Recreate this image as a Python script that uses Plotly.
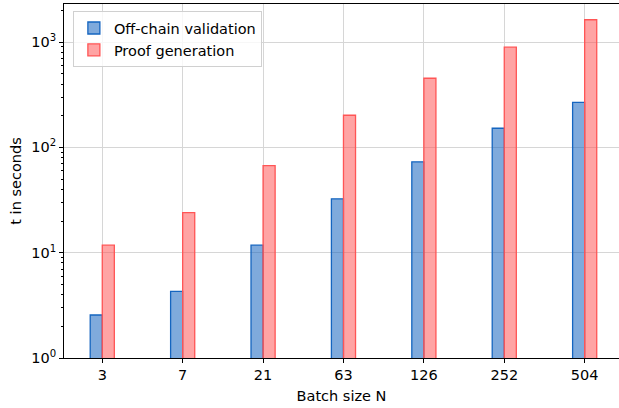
import plotly.graph_objects as go

batch_sizes = ["3", "7", "21", "63", "126", "252", "504"]
offchain_validation = [2.56, 4.3, 11.8, 32.5, 73, 152, 268]
proof_generation = [11.8, 24, 67, 202, 454, 896, 1630]

x_pos = list(range(len(batch_sizes)))
W = 0.15
FONT = "DejaVu Sans, Verdana, sans-serif"
FS = 14.5

fig = go.Figure()
fig.add_trace(go.Bar(
    x=x_pos, y=offchain_validation, name="Off-chain validation",
    width=W, offset=-W,
    marker=dict(color="rgba(21,101,192,0.55)", line=dict(color="#1565c0", width=1.3)),
))
fig.add_trace(go.Bar(
    x=x_pos, y=proof_generation, name="Proof generation",
    width=W, offset=0,
    marker=dict(color="rgba(255,80,80,0.52)", line=dict(color="#ff5555", width=1.3)),
))

minor_vals = [m * 10 ** e for e in range(0, 4) for m in range(2, 10)]

fig.update_layout(
    width=619, height=408,
    margin=dict(l=64, r=0, t=4, b=50, autoexpand=False),
    barmode="overlay",
    plot_bgcolor="white", paper_bgcolor="white",
    font=dict(family=FONT, size=FS, color="black"),
    showlegend=True,
    legend=dict(
        x=0.016, y=0.98, xanchor="left", yanchor="top",
        bgcolor="rgba(255,255,255,0.8)", bordercolor="#d0d0d0", borderwidth=1,
        font=dict(family=FONT, size=FS), itemwidth=30,
    ),
    xaxis=dict(
        range=[-0.476, 6.427], automargin=False,
        tickmode="array", tickvals=x_pos, ticktext=batch_sizes,
        tickfont=dict(family=FONT, size=FS),
        showgrid=True, gridcolor="#d6d6d6", gridwidth=1,
        showline=True, linecolor="black", linewidth=1, mirror=True,
        ticks="outside", ticklen=4, tickcolor="black",
        title=dict(text="Batch size N", standoff=8, font=dict(family=FONT, size=FS)),
        zeroline=False,
    ),
    yaxis=dict(
        type="log", range=[0, 3.362], automargin=False,
        tickmode="array", tickvals=[1, 10, 100, 1000],
        ticktext=["10<sup>0</sup>", "10<sup>1</sup>", "10<sup>2</sup>", "10<sup>3</sup>"],
        tickfont=dict(family=FONT, size=FS),
        showgrid=True, gridcolor="#d6d6d6", gridwidth=1,
        showline=True, linecolor="black", linewidth=1, mirror=False,
        ticks="outside", ticklen=4, tickcolor="black",
        minor=dict(ticks="outside", ticklen=2, tickcolor="black", tickvals=minor_vals, showgrid=False),
        title=dict(text="t in seconds", standoff=6, font=dict(family=FONT, size=FS)),
        zeroline=False,
    ),
)

fig.write_html(
    "out.html",
    config={"displayModeBar": False},
    post_script="document.body.style.margin='0';document.body.style.overflow='hidden';",
)
